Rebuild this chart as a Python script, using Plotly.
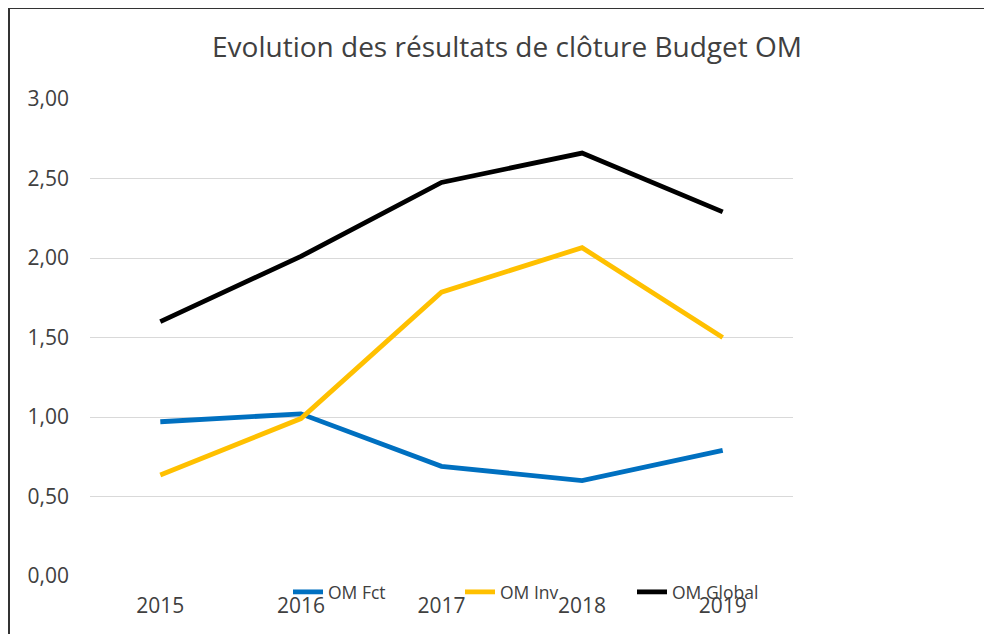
import plotly.graph_objects as go

years = ["2015", "2016", "2017", "2018", "2019"]
om_fct = [0.97, 1.02, 0.69, 0.60, 0.79]
om_inv = [0.635, 0.99, 1.785, 2.065, 1.50]
om_global = [1.60, 2.01, 2.475, 2.66, 2.29]
y_ticks = [0, 0.5, 1.0, 1.5, 2.0, 2.5, 3.0]
y_tick_labels = ["0,00", "0,50", "1,00", "1,50", "2,00", "2,50", "3,00"]

W, H = 992, 634
OFF = 8  # page offset of the figure in the window
pw, ph = 703, 477
L, T = 90 - OFF, 99 - OFF
R, B = W - L - pw, H - T - ph

def px(x):
    return (x - OFF - L) / pw

def py(y):
    return (T + ph - (y - OFF)) / ph

fig = go.Figure()
for name, vals, col in [("OM Fct", om_fct, "#0070C0"),
                        ("OM Inv", om_inv, "#FFC000"),
                        ("OM Global", om_global, "#000000")]:
    fig.add_trace(go.Scatter(x=years, y=vals, name=name, mode="lines",
                             line=dict(color=col, width=4.8)))

font = "Open Sans, Noto Sans, sans-serif"
fig.update_layout(
    width=W, height=H,
    margin=dict(l=L, r=R, t=T, b=B, autoexpand=False),
    paper_bgcolor="white", plot_bgcolor="white",
    font=dict(family=font, color="#404040"),
    title=dict(text="Evolution des résultats de clôture Budget OM",
               x=(507 - OFF) / W, xref="container", xanchor="center",
               y=1 - (47 - OFF) / H, yref="container", yanchor="middle",
               font=dict(size=28, color="#404040", family=font)),
    xaxis=dict(type="category", range=[-0.5, 4.5], showgrid=False,
               showline=False, ticks="", automargin=False,
               tickfont=dict(size=21, color="#404040"), ticklabelstandoff=15,
               zeroline=False),
    yaxis=dict(range=[0, 3], tickvals=y_ticks, ticktext=y_tick_labels,
               showgrid=True, gridcolor="#D9D9D9", gridwidth=1, automargin=False,
               zeroline=False, showline=False, ticks="",
               tickfont=dict(size=21, color="#404040"), ticklabelstandoff=20),
    legend=dict(orientation="h", x=px(288), xanchor="left",
                y=py(592), yanchor="middle", yref="paper",
                font=dict(size=17.5, color="#404040"),
                entrywidth=127, entrywidthmode="pixels",
                bgcolor="rgba(0,0,0,0)", itemwidth=30),
    showlegend=True,
    shapes=[dict(type="rect", xref="paper", yref="paper",
                 x0=px(9), x1=px(1010), y0=py(660), y1=py(8),
                 line=dict(color="#333333", width=2), fillcolor="rgba(0,0,0,0)",
                 layer="below")],
)

fig.write_html("out.html")
